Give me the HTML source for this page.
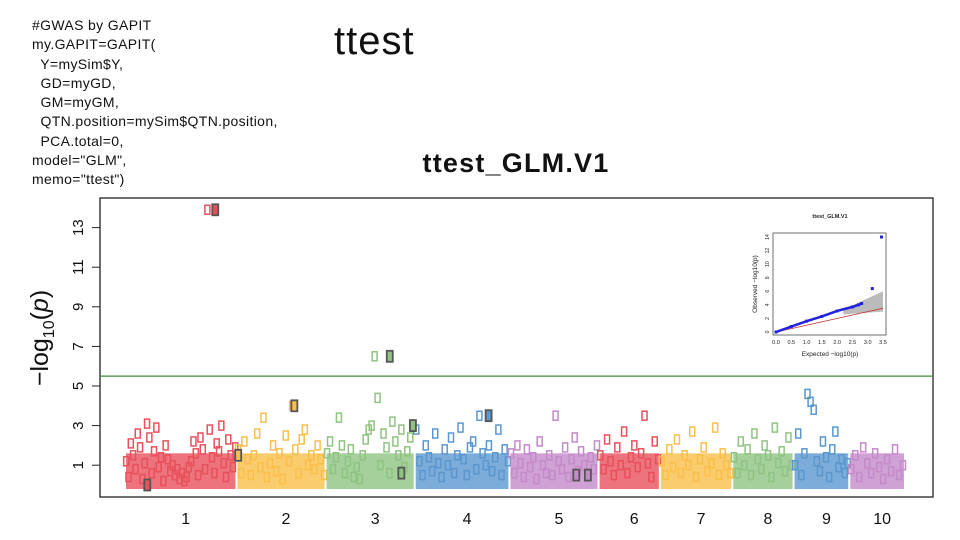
<!DOCTYPE html>
<html><head><meta charset="utf-8">
<style>
body{margin:0;width:960px;height:540px;background:#fff;overflow:hidden;position:relative;font-family:"Liberation Sans",sans-serif}
#code{position:absolute;left:32px;top:16px;font-size:14px;letter-spacing:0.35px;line-height:19.3px;color:#111;white-space:pre;font-family:"Liberation Sans",sans-serif}
#title{position:absolute;left:334px;top:19px;font-size:40px;letter-spacing:1px;color:#111}
svg{position:absolute;left:0;top:0}
</style></head><body>
<div id="code">#GWAS by GAPIT
my.GAPIT=GAPIT(
  Y=mySim$Y,
  GD=myGD,
  GM=myGM,
  QTN.position=mySim$QTN.position,
  PCA.total=0,
model="GLM",
memo="ttest")</div>
<div id="title">ttest</div>
<svg id="chart" width="960" height="540"></svg>
<script>
const chromLabels=["1","2","3","4","5","6","7","8","9","10"];
const chromStart=[0,1.0,1.8,2.6,3.45,4.25,4.8,5.45,6.0,6.5];
const chromEnd=[1.0,1.8,2.6,3.45,4.25,4.8,5.45,6.0,6.5,7.0];
const chromColors=["#e8505b","#f9bf4a","#8fc382","#5b97cf","#c48ac9","#e8505b","#f9bf4a","#8fc382","#5b97cf","#c48ac9"];
const yTicks=[1,3,5,7,9,11,13];
const threshold=5.5;
const chr1=[1.2,0.4,2.1,1.5,0.8,2.6,1.9,0.3,1.1,3.1,2.4,0.6,1.7,2.9,0.9,1.4,0.2,2.0,1.3,0.7,1.0,0.5,0.8,0.3,0.6,0.2,0.4,0.9,1.2,2.2,1.6,0.5,2.4,1.8,0.8,13.9,2.8,1.4,0.6,2.1,1.7,3.0,1.1,0.4,2.3,1.5,0.9,1.9];
const chr2=[1.8,0.6,2.2,1.3,0.5,1.5,2.6,0.9,3.4,0.4,1.1,2.0,0.7,1.6,0.3,2.5,1.2,4.0,1.8,0.6,2.3,2.8,1.0,1.5,0.8,2.0,1.3,0.5];
const chr3=[1.6,2.2,0.8,1.4,3.4,2.0,0.6,1.2,1.8,0.4,0.9,0.3,1.5,2.3,2.8,3.0,6.5,4.4,1.0,2.6,1.9,0.6,3.2,2.2,1.5,2.8,0.9,1.7,2.4,3.0];
const chr4=[2.8,1.2,0.5,2.0,1.4,0.7,2.6,1.1,0.4,1.8,1.0,2.4,0.6,1.5,2.9,1.3,0.5,1.9,2.2,0.8,3.5,1.6,1.0,2.0,0.7,1.4,2.8,0.5,1.8,1.2];
const chr5=[1.6,0.6,2.0,1.1,0.4,1.8,0.9,1.4,0.3,2.2,1.0,0.6,1.5,0.5,3.5,1.2,0.8,1.9,0.4,1.3,2.4,0.7,1.7,1.0,0.5,1.4,0.8,2.0];
const chr6=[1.5,0.8,2.3,1.2,0.5,1.9,1.0,2.7,0.6,1.4,2.0,0.9,1.6,3.5,1.1,0.4,2.2,1.3];
const chr7=[1.2,0.5,1.8,0.9,2.3,0.6,1.5,1.0,2.7,0.4,1.3,1.9,0.7,1.1,2.9,0.5,1.6,1.0,0.6];
const chr8=[1.4,0.6,2.2,1.0,1.8,0.5,2.6,1.3,0.8,2.0,1.5,0.4,2.9,1.1,1.7,0.7,2.4,1.0];
const chr9=[1.0,2.6,0.5,1.6,4.6,4.2,3.8,1.2,0.7,2.2,1.4,0.4,1.8,2.7,0.9,1.3,0.6,1.1];
const chr10=[0.8,1.5,0.4,1.9,1.1,0.6,1.6,0.9,0.3,1.3,0.7,1.8,0.5,1.0];
const chrValues=[chr1,chr2,chr3,chr4,chr5,chr6,chr7,chr8,chr9,chr10];
const qtnChrom=[0,0,1,1,2,2,2,3,4,4];
const qtnFrac=[0.2,0.81,0.02,0.65,0.72,0.85,0.98,0.78,0.75,0.88];
const qtnValue=[0.0,13.9,1.5,4.0,6.5,0.6,3.0,3.5,0.5,0.5];
const qqExpected=[0.0,0.5,1.0,1.5,2.0,2.5,2.7,2.8,3.15,3.45];
const qqObserved=[0.0,0.8,1.6,2.3,3.1,3.7,4.0,4.2,6.4,14.0];

const NS="http://www.w3.org/2000/svg";
const svg=document.getElementById('chart');
function mk(t,a,p){const e=document.createElementNS(NS,t);for(const k in a)e.setAttribute(k,a[k]);(p||svg).appendChild(e);return e;}
const X0=125,X1=905,Y0=485,PY=19.8;
const xs=v=>X0+(X1-X0)*v/7.0;
const ys=v=>Y0-PY*v;

let fr=mk('rect',{x:100,y:198,width:833,height:299,fill:'none',stroke:'#222','stroke-width':1.3});


let pt=mk('text',{x:516,y:172,'text-anchor':'middle','font-size':27,'font-weight':'bold','letter-spacing':'1.2','font-family':'Liberation Sans, sans-serif',fill:'#111'});
pt.textContent='ttest_GLM.V1';


yTicks.forEach(t=>{
  const l=mk('line',{x1:92,x2:100,y1:ys(t),y2:ys(t),stroke:'#222'});
  
  
  const tx=mk('text',{x:0,y:0,transform:`translate(83,${ys(t)}) rotate(-90)`,'text-anchor':'middle','font-size':15,fill:'#111'});
  tx.textContent=t;
  
  
});
mk('line',{x1:100,x2:100,y1:ys(1),y2:ys(13),stroke:'#222'});
let yt=mk('text',{x:0,y:0,transform:'translate(48,338) rotate(-90)','text-anchor':'middle','font-size':25,fill:'#111'});
yt.innerHTML='−log<tspan font-size="16" dy="6">10</tspan><tspan dy="-6">(</tspan><tspan font-style="italic">p</tspan>)';


let th=mk('line',{x1:100,x2:933,y1:ys(threshold),y2:ys(threshold),stroke:'#3d8b3d','stroke-width':1.3});


chrValues.forEach((vals,c)=>{
  const g=mk('g',{});
  
  
  const a=chromStart[c],b=chromEnd[c];
  const base=mk('rect',{x:xs(a)+1,y:ys(1.6),width:xs(b)-xs(a)-2,height:ys(0)-ys(1.6)+4,fill:chromColors[c],opacity:0.8},g);
  
  
  vals.forEach((v,i)=>{
    const px=xs(a+(b-a)*(i+0.5)/vals.length);
    const r=mk('rect',{x:px-2.5,y:ys(v)-4.5,width:5,height:9,fill:'none',stroke:chromColors[c],'stroke-width':1.5},g);
    
    
  });
  const lab=mk('text',{x:(xs(a)+xs(b))/2+5,y:524,'text-anchor':'middle','font-size':16,fill:'#111'});
  lab.textContent=chromLabels[c];
  
  
});
qtnChrom.forEach((c,i)=>{
  const a=chromStart[c],b=chromEnd[c];
  const px=xs(a+(b-a)*qtnFrac[i]);
  const r=mk('rect',{x:px-3,y:ys(qtnValue[i])-5.5,width:6,height:11,fill:chromColors[c],stroke:'#555','stroke-width':1.8});
  
  
});
const qg=mk('g',{});


const QX0=776,QX1=883,QY0=332,QY1=237;
const qx=v=>QX0+(QX1-QX0)*v/3.5;
const qy=v=>QY0-(QY0-QY1)*v/14;
mk('rect',{x:773,y:233,width:113,height:102,fill:'none',stroke:'#333','stroke-width':0.7},qg);
let qt=mk('text',{x:830,y:218,'text-anchor':'middle','font-size':5.5,'font-weight':'bold',fill:'#222'},qg);qt.textContent='ttest_GLM.V1';
mk('polygon',{points:`${qx(2.2)},${qy(3.3)} ${qx(3.5)},${qy(6)} ${qx(3.5)},${qy(3)} ${qx(2.2)},${qy(2.6)}`,fill:'#bbb'},qg);
mk('line',{x1:qx(0),y1:qy(0),x2:qx(3.5),y2:qy(3.5),stroke:'#c03030','stroke-width':0.8},qg);
mk('polyline',{points:qqExpected.slice(0,8).map((e,i)=>qx(e)+','+qy(qqObserved[i])).join(' '),fill:'none',stroke:'#2222dd','stroke-width':2.5},qg);
qqExpected.forEach((e,i)=>{const c=mk('rect',{x:qx(e)-1.5,y:qy(qqObserved[i])-1.5,width:3,height:3,fill:'#2222dd'},qg);

});
[0,0.5,1,1.5,2,2.5,3,3.5].forEach(t=>{const tx=mk('text',{x:qx(t),y:344,'text-anchor':'middle','font-size':5.5,fill:'#222'},qg);tx.textContent=t.toFixed(1);});
let qxl=mk('text',{x:830,y:356,'text-anchor':'middle','font-size':6.5,fill:'#222'},qg);qxl.textContent='Expected −log10(p)';
let qyl=mk('text',{x:0,y:0,transform:'translate(757,284) rotate(-90)','text-anchor':'middle','font-size':6.5,fill:'#222'},qg);qyl.textContent='Observed −log10(p)';
[0,2,4,6,8,10,12,14].forEach(t=>{const tx=mk('text',{x:0,y:0,transform:`translate(769,${qy(t)}) rotate(-90)`,'text-anchor':'middle','font-size':5,fill:'#222'},qg);tx.textContent=t;});
</script>
</body></html>
